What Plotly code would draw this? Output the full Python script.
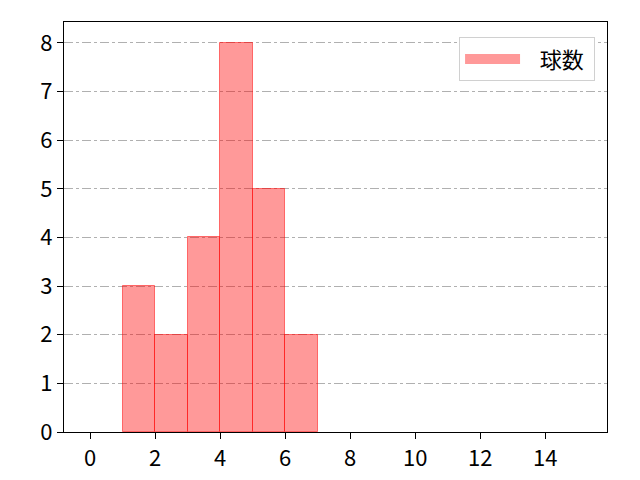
import plotly.graph_objects as go

# histogram data: bin left edges and counts
bin_left = [1, 2, 3, 4, 5, 6]
counts = [3, 2, 4, 8, 5, 2]
bin_width = 1
series_name = "球数"

x_ticks = [0, 2, 4, 6, 8, 10, 12, 14]
y_ticks = [0, 1, 2, 3, 4, 5, 6, 7, 8]

fig = go.Figure()
fig.add_trace(go.Bar(
    x=bin_left,
    y=counts,
    width=bin_width,
    offset=0,
    name=series_name,
    marker=dict(color="rgba(255,0,0,0.4)",
                line=dict(color="rgba(255,0,0,0.5)", width=1)),
    showlegend=False,
))
# legend proxy so the swatch is a wide patch like matplotlib's
fig.add_trace(go.Scatter(
    x=[None], y=[None], mode="lines", name="   " + series_name + " ",
    line=dict(color="rgba(255,0,0,0.4)", width=20),
))

axis_common = dict(
    showline=True, linecolor="black", linewidth=1.3, mirror=True,
    ticks="outside", ticklen=6, tickwidth=1.1, tickcolor="black",
    tickfont=dict(size=22, color="black"),
    zeroline=False,
)

fig.update_xaxes(range=[-0.8, 15.9], tickvals=x_ticks, showgrid=False, **axis_common)
fig.update_yaxes(range=[0, 8.43], tickvals=y_ticks, showgrid=True,
                 gridcolor="#b0b0b0", griddash="dashdot", gridwidth=1, **axis_common)

fig.update_layout(
    width=640, height=480,
    margin=dict(l=56, r=41, t=14, b=56),
    paper_bgcolor="white", plot_bgcolor="white",
    font=dict(family="Noto Sans CJK JP, sans-serif", color="black"),
    bargap=0,
    legend=dict(x=0.978, y=0.963, xanchor="right", yanchor="top",
                bordercolor="#d0d0d0", borderwidth=1, bgcolor="white",
                itemwidth=55, font=dict(size=22)),
)

fig.write_html("out.html")
